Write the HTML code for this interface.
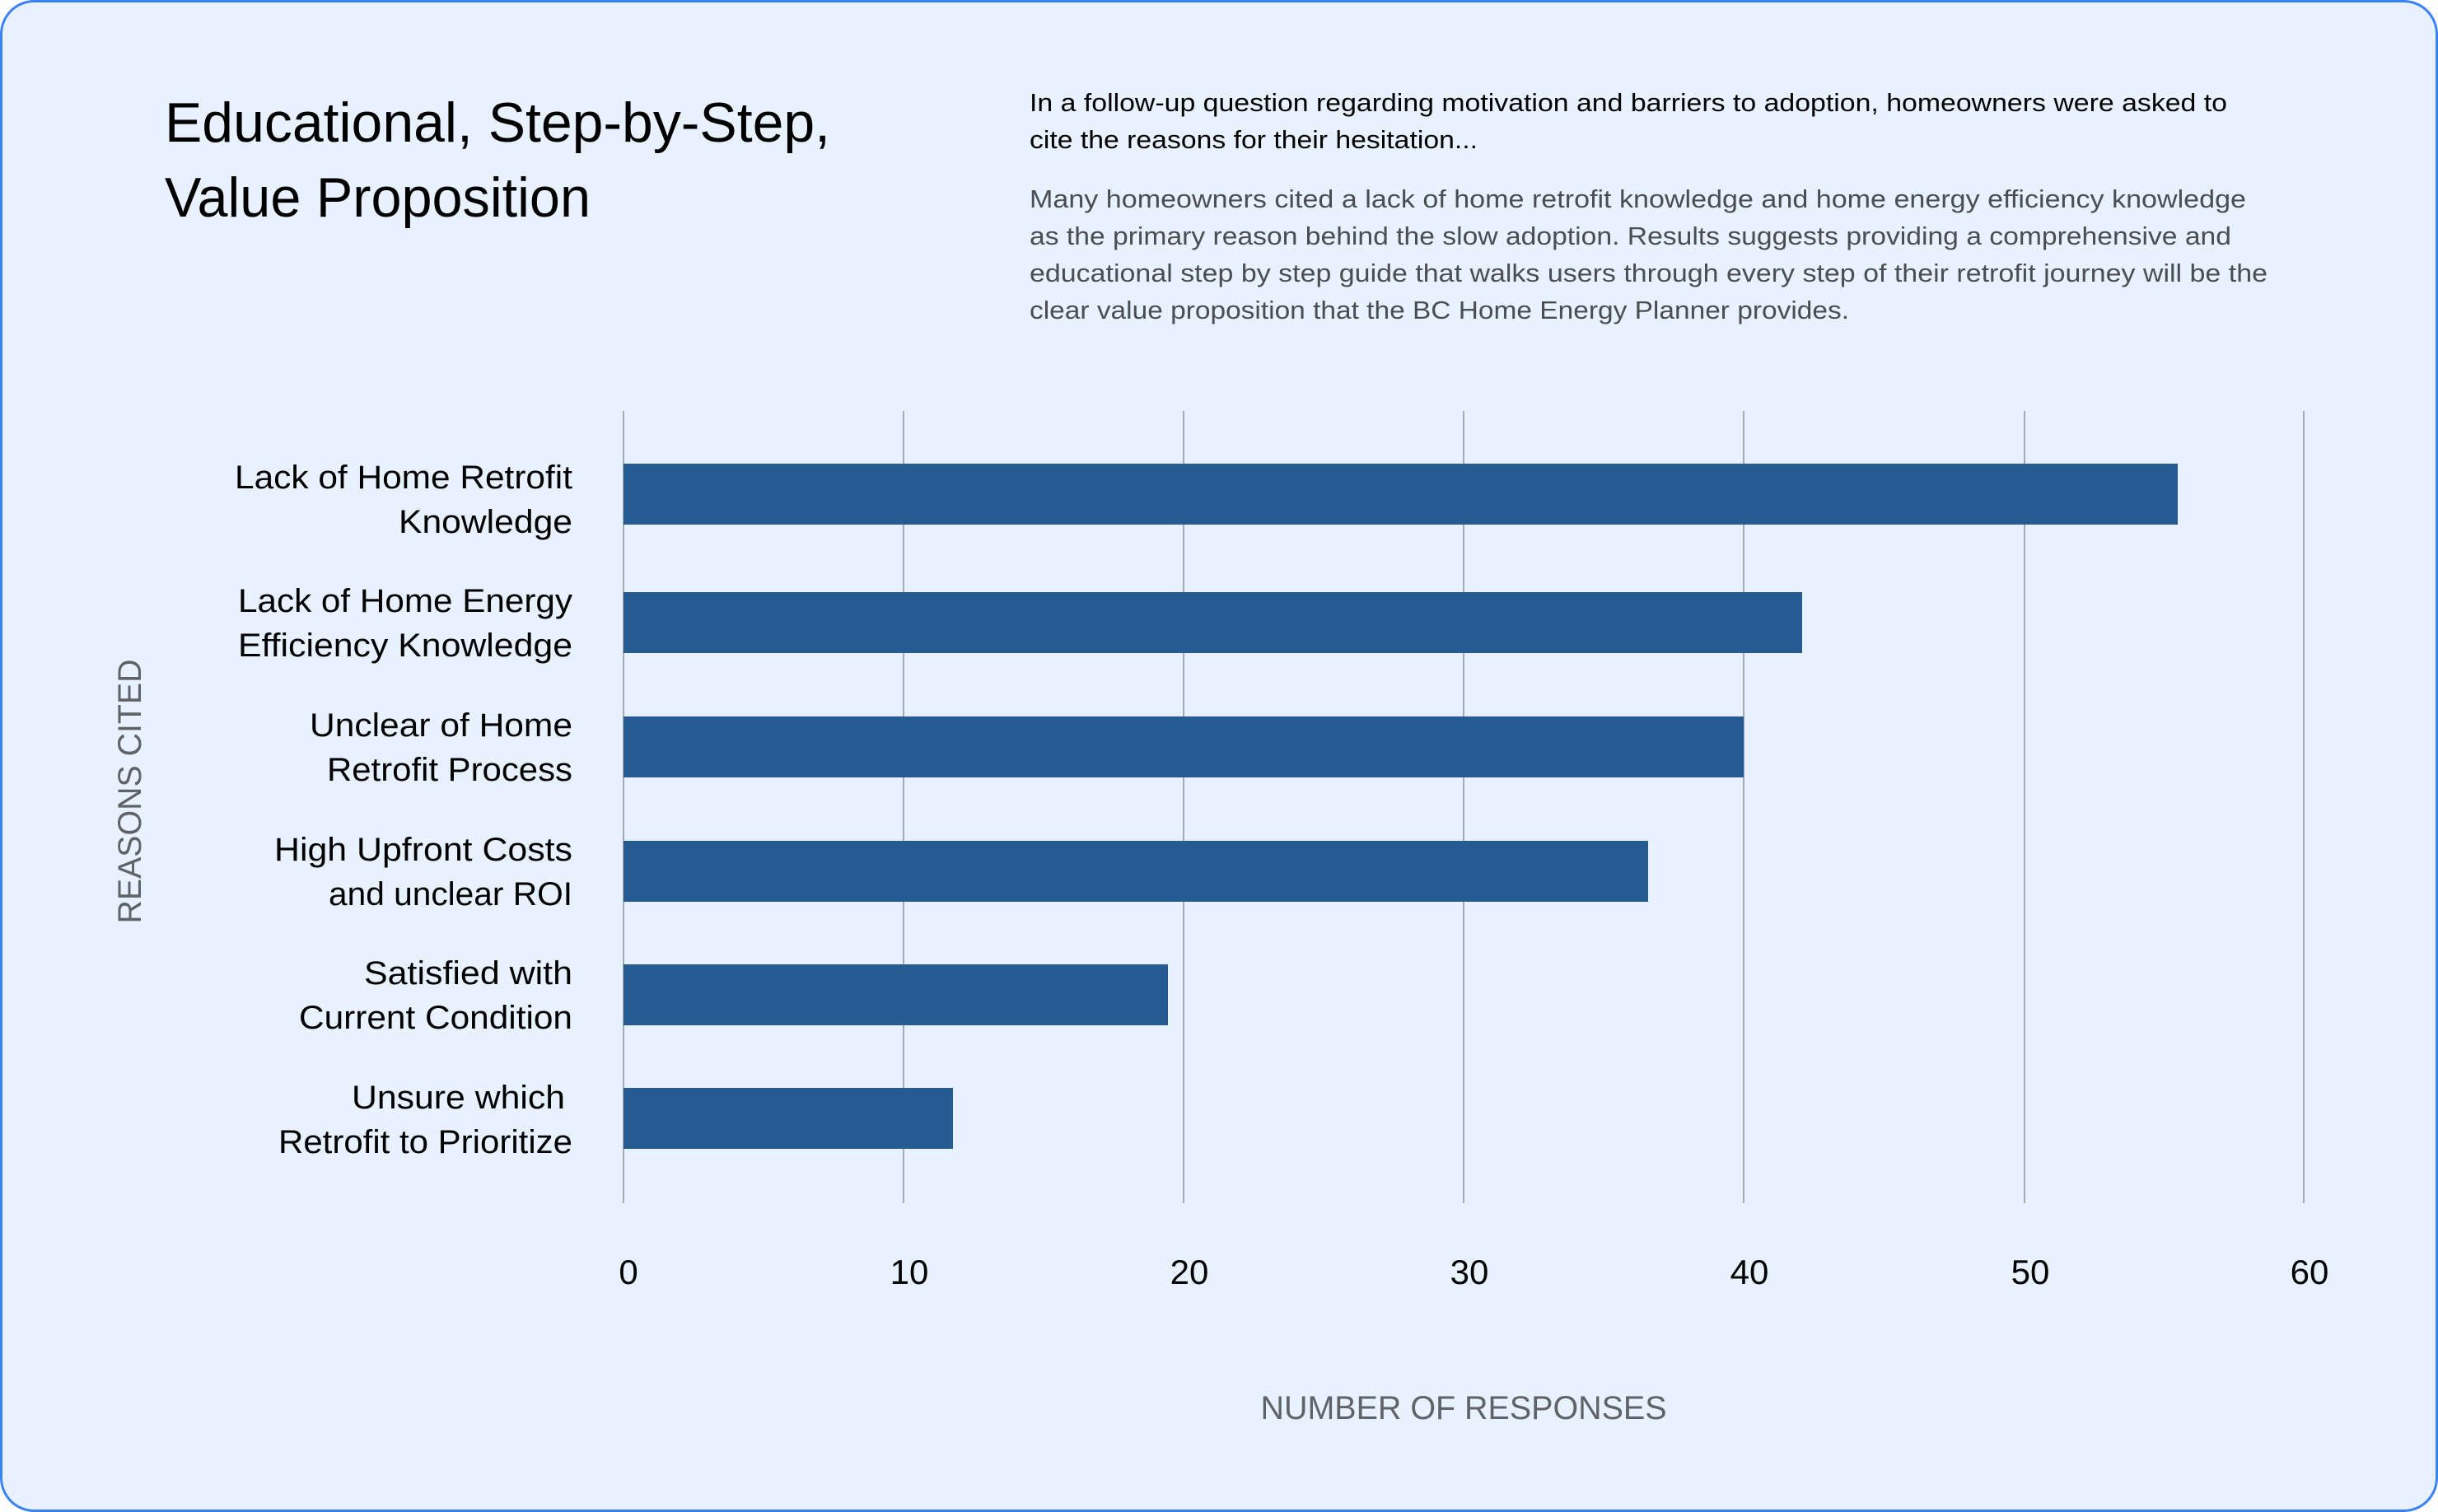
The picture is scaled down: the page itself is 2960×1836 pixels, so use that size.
<!DOCTYPE html>
<html><head><meta charset="utf-8"><style>
html,body{margin:0;padding:0;background:#fff;}
svg{display:block;}
text{font-family:"Liberation Sans",sans-serif;}
</style></head><body>
<svg width="2960" height="1836" viewBox="0 0 2960 1836" xmlns="http://www.w3.org/2000/svg">
<rect x="1.5" y="1.5" width="2957" height="1833" rx="40" ry="40" fill="#e8f2fe" stroke="#3b82f6" stroke-width="3"/>
<g fill="#000">
<text x="200" y="172" font-size="68" textLength="808" lengthAdjust="spacingAndGlyphs">Educational, Step-by-Step,</text>
<text x="200" y="263" font-size="68" textLength="517" lengthAdjust="spacingAndGlyphs">Value Proposition</text>
<text x="1250" y="135" font-size="31" textLength="1454" lengthAdjust="spacingAndGlyphs">In a follow-up question regarding motivation and barriers to adoption, homeowners were asked to</text>
<text x="1250" y="180" font-size="31" textLength="544" lengthAdjust="spacingAndGlyphs">cite the reasons for their hesitation...</text>
</g>
<g fill="#4a4d52" font-size="31">
<text x="1250" y="252" textLength="1477" lengthAdjust="spacingAndGlyphs">Many homeowners cited a lack of home retrofit knowledge and home energy efficiency knowledge</text>
<text x="1250" y="297" textLength="1459" lengthAdjust="spacingAndGlyphs">as the primary reason behind the slow adoption. Results suggests providing a comprehensive and</text>
<text x="1250" y="342" textLength="1503" lengthAdjust="spacingAndGlyphs">educational step by step guide that walks users through every step of their retrofit journey will be the</text>
<text x="1250" y="387" textLength="995" lengthAdjust="spacingAndGlyphs">clear value proposition that the BC Home Energy Planner provides.</text>
</g>
<g stroke="#a3abb6" stroke-width="2">
<line x1="757" y1="499" x2="757" y2="1461"/>
<line x1="1097" y1="499" x2="1097" y2="1461"/>
<line x1="1437" y1="499" x2="1437" y2="1461"/>
<line x1="1777" y1="499" x2="1777" y2="1461"/>
<line x1="2117" y1="499" x2="2117" y2="1461"/>
<line x1="2458" y1="499" x2="2458" y2="1461"/>
<line x1="2797" y1="499" x2="2797" y2="1461"/>
</g>
<g fill="#265b91">
<rect x="757" y="563" width="1887" height="74"/>
<rect x="757" y="719" width="1431" height="74"/>
<rect x="757" y="870" width="1360" height="74"/>
<rect x="757" y="1021" width="1244" height="74"/>
<rect x="757" y="1171" width="661" height="74"/>
<rect x="757" y="1321" width="400" height="74"/>
</g>
<g fill="#000" font-size="40" text-anchor="end">
<text x="695" y="593" textLength="410" lengthAdjust="spacingAndGlyphs">Lack of Home Retrofit</text>
<text x="695" y="647" textLength="211" lengthAdjust="spacingAndGlyphs">Knowledge</text>
<text x="695" y="743" textLength="406" lengthAdjust="spacingAndGlyphs">Lack of Home Energy</text>
<text x="695" y="797" textLength="406" lengthAdjust="spacingAndGlyphs">Efficiency Knowledge</text>
<text x="695" y="894" textLength="319" lengthAdjust="spacingAndGlyphs">Unclear of Home</text>
<text x="695" y="948" textLength="298" lengthAdjust="spacingAndGlyphs">Retrofit Process</text>
<text x="695" y="1045" textLength="362" lengthAdjust="spacingAndGlyphs">High Upfront Costs</text>
<text x="695" y="1099" textLength="296" lengthAdjust="spacingAndGlyphs">and unclear ROI</text>
<text x="695" y="1195" textLength="253" lengthAdjust="spacingAndGlyphs">Satisfied with</text>
<text x="695" y="1249" textLength="332" lengthAdjust="spacingAndGlyphs">Current Condition</text>
<text x="686" y="1346" textLength="259" lengthAdjust="spacingAndGlyphs">Unsure which</text>
<text x="695" y="1400" textLength="357" lengthAdjust="spacingAndGlyphs">Retrofit to Prioritize</text>
</g>
<g fill="#000" font-size="42" text-anchor="middle">
<text x="763" y="1559">0</text>
<text x="1104" y="1559">10</text>
<text x="1444" y="1559">20</text>
<text x="1784" y="1559">30</text>
<text x="2124" y="1559">40</text>
<text x="2465" y="1559">50</text>
<text x="2804" y="1559">60</text>
</g>
<text x="1777" y="1723" font-size="40" fill="#5f6368" text-anchor="middle" textLength="493" lengthAdjust="spacingAndGlyphs">NUMBER OF RESPONSES</text>
<text transform="translate(171,961) rotate(-90)" x="0" y="0" font-size="40" fill="#5f6368" text-anchor="middle" textLength="321" lengthAdjust="spacingAndGlyphs">REASONS CITED</text>
</svg>
</body></html>
